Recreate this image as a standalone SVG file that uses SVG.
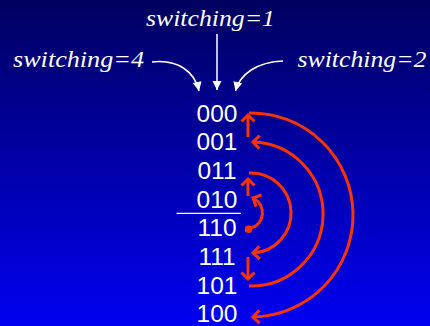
<svg xmlns="http://www.w3.org/2000/svg" width="430" height="326" viewBox="0 0 430 326">
<defs>
<linearGradient id="bg" x1="0" y1="0" x2="0" y2="1">
<stop offset="0" stop-color="#000060"/>
<stop offset="0.5" stop-color="#0000a8"/>
<stop offset="1" stop-color="#0000f2"/>
</linearGradient>
<marker id="ra" markerUnits="userSpaceOnUse" markerWidth="20" markerHeight="20" refX="10" refY="10" orient="auto" viewBox="0 0 20 20" overflow="visible">
<path d="M3.5 3.5 L10 10 L3.5 16.5" fill="none" stroke="#ff3300" stroke-width="3"/>
</marker>
<marker id="wa" markerUnits="userSpaceOnUse" markerWidth="12" markerHeight="12" refX="10" refY="6" orient="auto" viewBox="0 0 12 12" overflow="visible">
<path d="M1 1.5 L10 6 L1 10.5 Z" fill="#ffffff"/>
</marker>
<style>
.lbl{font-family:"Liberation Serif","Times New Roman",serif;font-style:italic;font-size:24px;fill:#ffffff}
.code{font-family:"Liberation Sans",Arial,sans-serif;font-size:24.5px;fill:#ffffff;text-anchor:middle}
.red{fill:none;stroke:#ff3300;stroke-width:3;marker-end:url(#ra)}
.wh{fill:none;stroke:#ffffff;stroke-width:1.5;marker-end:url(#wa)}
</style>
</defs>
<rect width="430" height="326" fill="url(#bg)"/>
<g id="label-s1"><text class="lbl" x="146" y="26" textLength="129" lengthAdjust="spacingAndGlyphs">switching=1</text></g>
<g id="label-s4"><text class="lbl" x="13" y="67" textLength="131" lengthAdjust="spacingAndGlyphs">switching=4</text></g>
<g id="label-s2"><text class="lbl" x="297.5" y="67" textLength="129" lengthAdjust="spacingAndGlyphs">switching=2</text></g>
<g id="codes">
<g id="c000"><text class="code" x="217" y="121.5">000</text></g>
<g id="c001"><text class="code" x="217" y="150.2">001</text></g>
<g id="c011"><text class="code" x="217" y="178.9">011</text></g>
<g id="c010"><text class="code" x="217" y="207.6">010</text></g>
<g id="c110"><text class="code" x="217" y="236.3">110</text></g>
<g id="c111"><text class="code" x="217" y="265">111</text></g>
<g id="c101"><text class="code" x="217" y="293.7">101</text></g>
<g id="c100"><text class="code" x="217" y="322.4">100</text></g>
</g>
<line x1="176.5" y1="213.3" x2="241" y2="213.3" stroke="#ffffff" stroke-width="1.2"/>
<g id="connectors">
<path class="wh" d="M217 34 L217 90"/>
<path class="wh" d="M152 62 C178 59 195 72 199 91"/>
<path class="wh" d="M283 61 C257 62 240 74 235.5 91"/>
<path class="red" d="M248 137 L248 115"/>
<path class="red" d="M248 196 L248 179"/>
<path class="red" d="M248 257 L248 279"/>
<path class="red" d="M249 113 A102 102 0 0 1 253 317"/>
<path class="red" d="M249 286 A72 72 0 0 0 253 142"/>
<path class="red" d="M249 173 A40 40 0 0 1 253 253"/>
<path class="red" d="M250 228.5 C266 224 266 204 253 198"/>
<circle cx="248.5" cy="229.3" r="3.8" fill="#ff3300"/>
</g>
</svg>
